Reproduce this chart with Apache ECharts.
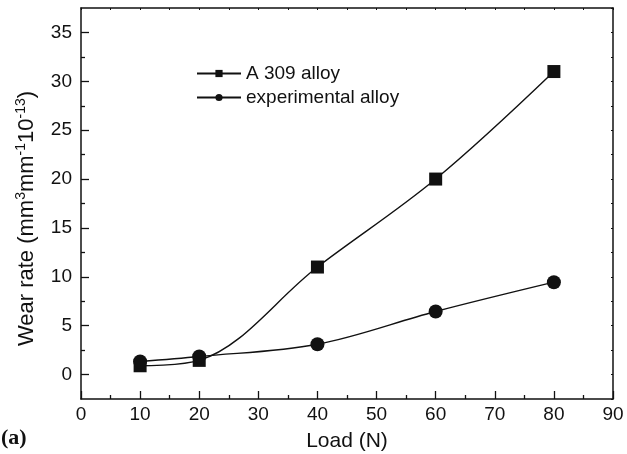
<!DOCTYPE html>
<html><head><meta charset="utf-8">
<script src="https://cdn.jsdelivr.net/npm/echarts@6/dist/echarts.min.js"></script>
<style>html,body{margin:0;padding:0;background:#fff}#c{width:627px;height:454px}</style>
</head><body><div id="c"></div>
<script>
const loads = [10, 20, 40, 60, 80];
const a309 = [0.9, 1.45, 11.0, 20.0, 31.0];
const experimental = [1.33, 1.85, 3.1, 6.45, 9.45];
const seriesNames = ['A 309 alloy', 'experimental alloy'];
const yMajor = [0, 5, 10, 15, 20, 25, 30, 35];
const yMinor = [2.5, 7.5, 12.5, 17.5, 22.5, 27.5, 32.5];
const xMajor = [0, 10, 20, 30, 40, 50, 60, 70, 80, 90];
const xMinor = [5, 15, 25, 35, 45, 55, 65, 75, 85];

const FONT = '"Liberation Sans", Arial, sans-serif';
const black = '#111';
const axisLine = {show: true, onZero: false, lineStyle: {color: black, width: 1.5}};
const noLine = {show: false, onZero: false};
const pair = (xs, ys) => xs.map((x, i) => [x, ys[i]]);

const chart = echarts.init(document.getElementById('c'), null, {renderer: 'canvas'});
chart.setOption({
  animation: false,
  backgroundColor: '#fff',
  grid: {left: 81, top: 8, width: 532, height: 391, containLabel: false, outerBoundsMode: 'none'},
  legend: {
    orient: 'vertical', left: 196, top: 64, padding: 0,
    itemWidth: 44, itemHeight: 9, itemGap: 5,
    textStyle: {fontFamily: FONT, fontSize: 19, color: black},
    data: seriesNames
  },
  xAxis: [
    {type: 'value', min: 0, max: 90, interval: 10, position: 'bottom',
     axisLine: axisLine,
     axisTick: {show: true, inside: true, length: 8, lineStyle: {color: black, width: 1.3}},
     axisLabel: {customValues: xMajor, margin: 6, fontFamily: FONT, fontSize: 19, color: black},
     splitLine: {show: false},
     name: 'Load (N)', nameLocation: 'middle', nameGap: 32,
     nameTextStyle: {fontFamily: FONT, fontSize: 21, color: black}},
    {type: 'value', min: 0, max: 90, interval: 5, position: 'bottom',
     axisLine: noLine,
     axisTick: {show: true, inside: true, length: 4, customValues: xMinor, lineStyle: {color: black, width: 1.3}},
     axisLabel: {show: false}, splitLine: {show: false}},
    {type: 'value', min: 0, max: 90, interval: 5, position: 'top',
     axisLine: axisLine,
     axisTick: {show: true, inside: true, length: 2, lineStyle: {color: black, width: 1}},
     axisLabel: {show: false}, splitLine: {show: false}}
  ],
  yAxis: [
    {type: 'value', min: -2.5, max: 37.5, interval: 2.5, position: 'left',
     axisLine: axisLine,
     axisTick: {show: true, inside: true, length: 8, customValues: yMajor, lineStyle: {color: black, width: 1.3}},
     axisLabel: {customValues: yMajor, margin: 9, fontFamily: FONT, fontSize: 19, color: black},
     splitLine: {show: false},
     name: '{t|Wear rate (mm}{s|3}{t|mm}{s|-1}{t|10}{s|-13}{t|)}',
     nameLocation: 'middle', nameGap: 41, nameRotate: 90,
     nameTextStyle: {
       fontFamily: FONT, fontSize: 22, color: black, padding: [0, 30, 0, 0],
       rich: {
         t: {fontFamily: FONT, fontSize: 22, color: black},
         s: {fontFamily: FONT, fontSize: 14, color: black, verticalAlign: 'top', padding: [0, 0, 12, 0]}
       }
     }},
    {type: 'value', min: -2.5, max: 37.5, interval: 2.5, position: 'left',
     axisLine: noLine,
     axisTick: {show: true, inside: true, length: 4, customValues: yMinor, lineStyle: {color: black, width: 1.3}},
     axisLabel: {show: false}, splitLine: {show: false}},
    {type: 'value', min: -2.5, max: 37.5, interval: 2.5, position: 'right',
     axisLine: axisLine,
     axisTick: {show: true, inside: true, length: 2, lineStyle: {color: black, width: 1}},
     axisLabel: {show: false}, splitLine: {show: false}}
  ],
  series: [
    {name: seriesNames[0], type: 'line', smooth: 0.35, data: pair(loads, a309),
     symbol: 'rect', symbolSize: 13,
     lineStyle: {color: black, width: 1.4}, itemStyle: {color: black}},
    {name: seriesNames[1], type: 'line', smooth: 0.35, data: pair(loads, experimental),
     symbol: 'circle', symbolSize: 14,
     lineStyle: {color: black, width: 1.4}, itemStyle: {color: black}}
  ],
  graphic: [
    {type: 'text', left: 1, top: 427,
     style: {text: '(a)', fontFamily: '"Liberation Serif", "Times New Roman", serif', fontWeight: 'bold', fontSize: 22, fill: black}}
  ]
});
</script>
</body></html>
